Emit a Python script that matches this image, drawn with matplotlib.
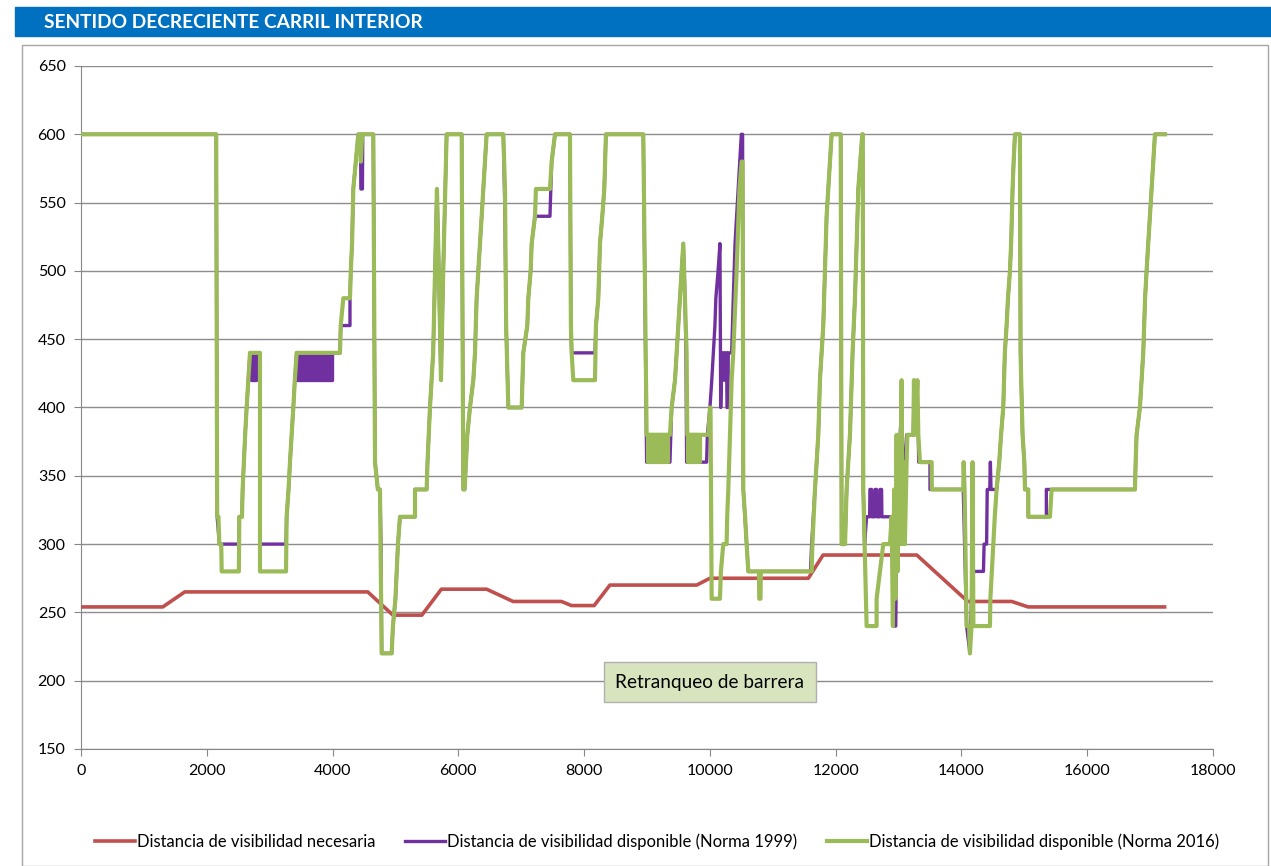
import matplotlib.pyplot as plt
from matplotlib.patches import Rectangle

plt.rcParams['font.family'] = ['Lato', 'DejaVu Sans']

# Distancia de visibilidad necesaria
red_x = [0, 1300, 1650, 4560, 4960, 5420, 5730, 6450, 6870, 7640, 7800, 8160, 8410, 9790, 10000, 11565, 11800, 13290, 14100, 14800, 15060, 17230]
red_y = [254, 254, 265, 265, 248, 248, 267, 267, 258, 258, 255, 255, 270, 270, 275, 275, 292, 292, 258, 258, 254, 254]

# Distancia de visibilidad disponible (Norma 2016), (pk, distancia) vertices
green_pts = [
    (0, 600), (2150, 600), (2165, 320), (2185, 320), (2200, 300), (2230, 300), (2237, 280), (2510, 280),
    (2517, 320), (2560, 320), (2570, 340), (2590, 360), (2610, 380), (2634, 400), (2660, 420), (2687, 440),
    (2846, 440), (2846, 280), (3260, 280), (3270, 320), (3300, 340), (3323, 360), (3350, 380), (3376, 400),
    (3400, 420), (3429, 440), (4118, 440), (4130, 460), (4171, 480), (4277, 480), (4290, 500), (4310, 520),
    (4330, 560), (4370, 580), (4409, 600), (4440, 600), (4450, 580), (4470, 600), (4648, 600), (4675, 360),
    (4720, 340), (4754, 340), (4781, 220), (4940, 220), (4960, 240), (5000, 260), (5020, 280), (5040, 300),
    (5072, 320), (5311, 320), (5311, 340), (5496, 340), (5510, 360), (5530, 380), (5549, 400), (5600, 440),
    (5620, 480), (5640, 520), (5660, 560), (5690, 500), (5724, 420), (5760, 500), (5814, 600), (6053, 600),
    (6079, 340), (6100, 340), (6121, 360), (6143, 380), (6185, 400), (6238, 420), (6265, 440), (6291, 480),
    (6318, 500), (6344, 520), (6371, 540), (6424, 580), (6450, 600), (6715, 600), (6742, 560), (6760, 460),
    (6795, 400), (7007, 400), (7020, 420), (7033, 440), (7097, 460), (7113, 480), (7150, 500), (7166, 520),
    (7219, 540), (7234, 560), (7457, 560), (7484, 580), (7537, 600), (7775, 600), (7790, 460), (7802, 440),
    (7828, 420), (8173, 420), (8188, 460), (8226, 480), (8252, 520), (8289, 540), (8321, 560), (8347, 600),
    (8941, 600), (8994, 380), (9365, 380), (9392, 400), (9445, 420), (9471, 440), (9524, 480), (9577, 520),
    (9604, 480), (9630, 440), (9640, 380), (9975, 380), (10001, 400), (10010, 400), (10028, 260), (10160, 260),
    (10175, 280), (10213, 300), (10266, 300), (10275, 320), (10293, 340), (10319, 380), (10346, 420),
    (10372, 440), (10425, 500), (10470, 560), (10505, 580), (10520, 580), (10531, 340), (10560, 320),
    (10584, 300), (10611, 280), (10780, 280), (10785, 260), (10805, 260), (10810, 280), (11618, 280),
    (11630, 300), (11671, 340), (11724, 380), (11750, 420), (11803, 460), (11830, 500), (11856, 540),
    (11883, 560), (11936, 600), (12080, 600), (12095, 300), (12148, 300), (12174, 340), (12227, 380),
    (12269, 440), (12307, 480), (12360, 560), (12423, 600), (12430, 600), (12439, 340), (12460, 300),
    (12492, 240), (12651, 240), (12651, 260), (12704, 280), (12757, 300), (12863, 300), (12890, 320),
    (12910, 240), (12930, 340), (12950, 260), (12969, 380), (12985, 280), (13000, 340), (13020, 300),
    (13049, 420), (13060, 300), (13080, 360), (13100, 300), (13128, 360), (13140, 380), (13234, 380),
    (13245, 420), (13260, 380), (13300, 420), (13314, 380), (13340, 360), (13526, 360), (13530, 340),
    (14029, 340), (14035, 360), (14050, 340), (14082, 240), (14120, 240), (14135, 220), (14160, 240),
    (14177, 360), (14190, 240), (14453, 240), (14460, 260), (14506, 300), (14530, 320), (14559, 340),
    (14601, 360), (14630, 380), (14665, 400), (14690, 440), (14718, 460), (14740, 480), (14771, 500),
    (14790, 520), (14813, 560), (14830, 580), (14851, 600), (14930, 600), (14940, 440), (14950, 420),
    (14972, 380), (15000, 360), (15010, 340), (15063, 340), (15063, 320), (15407, 320), (15434, 340),
    (16759, 340), (16770, 360), (16785, 380), (16838, 400), (16865, 420), (16891, 440), (16920, 480),
    (16944, 500), (16970, 520), (17024, 560), (17077, 600), (17236, 600),
]

# Distancia de visibilidad disponible (Norma 1999)
purple_pts = [
    (0, 600), (2150, 600), (2165, 320), (2200, 300), (2510, 300), (2517, 320), (2560, 320), (2570, 340),
    (2590, 360), (2610, 380), (2634, 400), (2660, 420), (2687, 440), (2846, 440), (2846, 300), (3260, 300),
    (3270, 320), (3300, 340), (3323, 360), (3350, 380), (3376, 400), (3400, 420), (3429, 440), (4118, 440),
    (4130, 460), (4277, 460), (4277, 480), (4290, 500), (4310, 520), (4330, 560), (4370, 580), (4409, 600),
    (4445, 600), (4450, 560), (4475, 560), (4480, 600), (4648, 600), (4675, 360), (4720, 340), (4754, 340),
    (4770, 300), (4781, 220), (4940, 220), (4960, 240), (5000, 260), (5020, 280), (5040, 300), (5072, 320),
    (5311, 320), (5311, 340), (5496, 340), (5510, 360), (5530, 380), (5549, 400), (5600, 440), (5620, 480),
    (5640, 520), (5660, 560), (5690, 500), (5724, 420), (5760, 500), (5814, 600), (6053, 600), (6079, 340),
    (6100, 340), (6121, 360), (6143, 380), (6185, 400), (6238, 420), (6265, 440), (6291, 480), (6318, 500),
    (6344, 520), (6371, 540), (6424, 580), (6450, 600), (6715, 600), (6742, 540), (6760, 460), (6795, 400),
    (7007, 400), (7020, 420), (7033, 440), (7097, 460), (7113, 480), (7150, 500), (7166, 520), (7219, 540),
    (7457, 540), (7484, 580), (7537, 600), (7775, 600), (7790, 460), (7802, 440), (8173, 440), (8188, 460),
    (8226, 480), (8252, 520), (8289, 540), (8321, 560), (8347, 600), (8941, 600), (8994, 360), (9365, 360),
    (9392, 400), (9445, 420), (9471, 440), (9524, 480), (9577, 520), (9604, 480), (9620, 440), (9630, 360),
    (9948, 360), (9960, 380), (10001, 400), (10030, 420), (10055, 440), (10080, 460), (10095, 480),
    (10130, 500), (10160, 520), (10172, 400), (10190, 440), (10213, 440), (10220, 420), (10235, 420),
    (10240, 440), (10266, 440), (10272, 400), (10285, 400), (10293, 440), (10346, 440), (10372, 480),
    (10400, 520), (10450, 560), (10500, 600), (10520, 600), (10531, 340), (10584, 300), (10611, 280),
    (11600, 280), (11618, 300), (11671, 340), (11724, 380), (11750, 420), (11803, 460), (11830, 500),
    (11856, 540), (11883, 560), (11936, 600), (12080, 600), (12095, 300), (12148, 300), (12174, 340),
    (12227, 380), (12269, 440), (12307, 480), (12360, 560), (12423, 600), (12430, 600), (12439, 340),
    (12460, 300), (12492, 320), (12540, 320), (12545, 340), (12570, 340), (12575, 320), (12620, 320),
    (12625, 340), (12650, 340), (12655, 320), (12700, 320), (12705, 340), (12730, 340), (12735, 320),
    (12890, 320), (12920, 300), (12935, 240), (12955, 240), (12975, 320), (13000, 360), (13049, 400),
    (13060, 300), (13100, 360), (13128, 380), (13234, 380), (13250, 420), (13314, 380), (13320, 360),
    (13500, 360), (13500, 340), (14029, 340), (14050, 300), (14082, 240), (14135, 220), (14160, 260),
    (14190, 280), (14350, 280), (14360, 300), (14400, 300), (14410, 340), (14450, 340), (14460, 360),
    (14470, 340), (14559, 340), (14601, 360), (14630, 380), (14665, 400), (14690, 440), (14718, 460),
    (14740, 480), (14771, 500), (14790, 520), (14813, 560), (14830, 580), (14851, 600), (14930, 600),
    (14940, 440), (14950, 420), (14972, 380), (15000, 360), (15010, 340), (15063, 340), (15063, 320),
    (15350, 320), (15350, 340), (16759, 340), (16770, 360), (16785, 380), (16838, 400), (16865, 420),
    (16891, 440), (16920, 480), (16944, 500), (16970, 520), (17024, 560), (17077, 600), (17236, 600),
]

# stretches where a series flickers between two values (drawn as a solid band)
purple_band_x0 = [2700, 3429]
purple_band_x1 = [2790, 3990]
purple_band_lo = [420, 420]
purple_band_hi = [440, 440]
green_band_x0 = [9020, 9650, 12095]
green_band_x1 = [9335, 9842, 12148]
green_band_lo = [360, 360, 300]
green_band_hi = [380, 380, 320]

ticks_x = [0, 2000, 4000, 6000, 8000, 10000, 12000, 14000, 16000, 18000]
ticks_y = [150, 200, 250, 300, 350, 400, 450, 500, 550, 600, 650]

RED, PURPLE, GREEN = '#C0504D', '#7030A0', '#9BBB59'

green_x, green_y = zip(*green_pts)
purple_x, purple_y = zip(*purple_pts)

fig = plt.figure(figsize=(12.71, 8.66), dpi=100)

# Title band and chart frame
fig.patches.append(Rectangle((15 / 1271, 1 - 36 / 866), 1256 / 1271, 29 / 866,
                             transform=fig.transFigure, color='#0070C0', zorder=0))
fig.text(44 / 1271, 1 - 22 / 866, 'SENTIDO DECRECIENTE CARRIL INTERIOR', color='white',
         fontsize=13.8, fontweight='bold', va='center', ha='left')
fig.patches.append(Rectangle((22 / 1271, 0), 1246 / 1271, 1 - 45 / 866, transform=fig.transFigure,
                             fill=False, edgecolor='#A6A6A6', linewidth=1, zorder=0))

ax = fig.add_axes([81 / 1271, 1 - 749 / 866, 1132 / 1271, 683 / 866])

ax.plot(red_x, red_y, color=RED, linewidth=2.6, label='Distancia de visibilidad necesaria', zorder=3)
ax.plot(purple_x, purple_y, color=PURPLE, linewidth=2.4,
        label='Distancia de visibilidad disponible (Norma 1999)', zorder=4)
for x0, x1, lo, hi in zip(purple_band_x0, purple_band_x1, purple_band_lo, purple_band_hi):
    ax.fill_between([x0, x1], lo, hi, facecolor=PURPLE, edgecolor=PURPLE, linewidth=2.4, zorder=4)
ax.plot(green_x, green_y, color=GREEN, linewidth=3.0,
        label='Distancia de visibilidad disponible (Norma 2016)', zorder=5)
for x0, x1, lo, hi in zip(green_band_x0, green_band_x1, green_band_lo, green_band_hi):
    ax.fill_between([x0, x1], lo, hi, facecolor=GREEN, edgecolor=GREEN, linewidth=3.0, zorder=5)

ax.set_xlim(0, 18000)
ax.set_ylim(150, 650)
ax.set_xticks(ticks_x)
ax.set_yticks(ticks_y)
ax.tick_params(labelsize=11.5, length=5, color='#878787', pad=6)
ax.grid(axis='y', color='#8C8C8C', linewidth=1)
ax.set_axisbelow(True)
for s in ['top', 'right']:
    ax.spines[s].set_visible(False)
for s in ['left', 'bottom']:
    ax.spines[s].set_color('#878787')

ax.text(10000, 199, 'Retranqueo de barrera', ha='center', va='center', fontsize=13.7, zorder=6,
        bbox=dict(boxstyle='square,pad=0.6', facecolor='#D7E4BD', edgecolor='#B0B0B0'))

fig.legend(loc='center', bbox_to_anchor=(0.517, 0.028), ncol=3, frameon=False, fontsize=12,
           handlelength=2.4, handletextpad=0.1, columnspacing=1.8)

fig.savefig('out.png', dpi=100)
